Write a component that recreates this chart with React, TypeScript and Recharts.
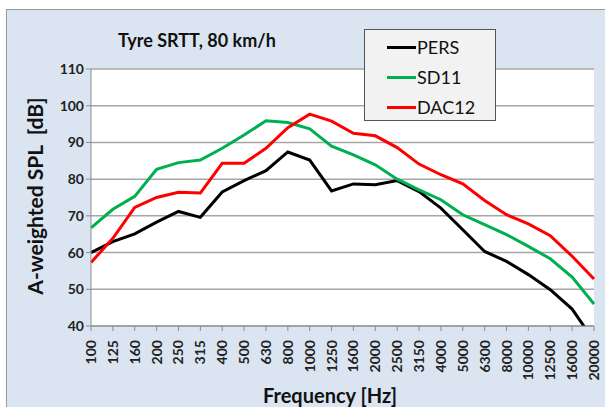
import { LineChart, Line, XAxis, YAxis, CartesianGrid } from 'recharts'

const frequencies = ['100', '125', '160', '200', '250', '315', '400', '500', '630', '800', '1000', '1250', '1600', '2000', '2500', '3150', '4000', '5000', '6300', '8000', '10000', '12500', '16000', '20000']
const pers = [60.0, 63.0, 65.1, 68.3, 71.2, 69.6, 76.5, 79.6, 82.3, 87.4, 85.2, 76.8, 78.7, 78.5, 79.6, 76.6, 72.1, 66.2, 60.3, 57.6, 54.0, 49.9, 44.6, 36.0]
const sd11 = [66.7, 71.8, 75.3, 82.7, 84.5, 85.2, 88.4, 92.0, 95.9, 95.4, 93.7, 89.0, 86.6, 83.9, 80.0, 77.1, 74.4, 70.3, 67.6, 64.9, 61.7, 58.3, 53.3, 46.0]
const dac12 = [57.3, 63.9, 72.3, 75.0, 76.4, 76.2, 84.3, 84.3, 88.4, 94.0, 97.7, 95.8, 92.5, 91.8, 88.6, 84.1, 81.2, 78.7, 74.2, 70.3, 67.8, 64.6, 59.0, 52.8]
const yTicks = [40, 50, 60, 70, 80, 90, 100, 110]

const series = [
  { key: 'PERS', color: '#000000' },
  { key: 'SD11', color: '#00b050' },
  { key: 'DAC12', color: '#ff0000' },
]

const data = frequencies.map((f, i) => ({ f, PERS: pers[i], SD11: sd11[i], DAC12: dac12[i] }))

const FONT = 'Lato, "Open Sans", sans-serif'

function FreqTick({ x, y, payload }: any) {
  return (
    <text x={x} y={y + 7} transform={`rotate(-90 ${x} ${y + 7})`} dy={5} textAnchor="end"
      fontFamily={FONT} fontWeight={700} fontSize={14} fill="#222">
      {payload.value}
    </text>
  )
}

export default function App() {
  return (
    <div style={{ position: 'fixed', left: 0, top: 0, width: 605, height: 407, background: '#fff', overflow: 'hidden' }}>
      <div style={{ position: 'absolute', left: 6, top: 9, width: 620, height: 420, background: '#dbe5f1', border: '1px solid #9a9a9a' }} />
      <div style={{ position: 'absolute', left: 0, top: 0 }}>
        <LineChart width={605} height={407} data={data} margin={{ top: 69, right: 11, left: 0, bottom: 0 }}>
          <CartesianGrid vertical={false} fill="#ffffff" stroke="#a6a6a6" strokeWidth={1.5} />
          <XAxis dataKey="f" height={81} interval={0} tick={<FreqTick />} tickSize={5}
            stroke="#8c8c8c" tickLine={{ stroke: '#8c8c8c' }} />
          <YAxis width={91} domain={[40, 110]} ticks={yTicks} allowDataOverflow interval={0} tickSize={5}
            stroke="#8c8c8c" tick={{ fontFamily: FONT, fontWeight: 700, fontSize: 14, fill: '#222' }} />
          {series.map((s) => (
            <Line key={s.key} dataKey={s.key} stroke={s.color} strokeWidth={3} dot={false} isAnimationActive={false} />
          ))}
        </LineChart>
      </div>
      <div style={{ position: 'absolute', left: 364, top: 29, width: 132, height: 92, background: '#f2f2f2', border: '1px solid #555', boxSizing: 'border-box', padding: '2px 0 0 22px', fontFamily: FONT, fontSize: 18 }}>
        {series.map((s) => (
          <div key={s.key} style={{ display: 'flex', alignItems: 'center', height: 30 }}>
            <span style={{ display: 'inline-block', width: 29, height: 3, background: s.color }} />
            <span style={{ marginLeft: 1, color: '#111' }}>{s.key}</span>
          </div>
        ))}
      </div>
      <div style={{ position: 'absolute', left: 118, top: 29, fontFamily: FONT, fontWeight: 700, fontSize: 18, color: '#111', whiteSpace: 'nowrap' }}>
        Tyre SRTT, 80 km/h
      </div>
      <div style={{ position: 'absolute', left: 34, top: 196, transform: 'translate(-50%, -50%) rotate(-90deg)', fontFamily: FONT, fontWeight: 700, fontSize: 21, color: '#111', whiteSpace: 'nowrap' }}>
        A-weighted SPL&nbsp; [dB]
      </div>
      <div style={{ position: 'absolute', left: 330, top: 383, transform: 'translateX(-50%)', fontFamily: FONT, fontWeight: 700, fontSize: 20, color: '#111', whiteSpace: 'nowrap' }}>
        Frequency [Hz]
      </div>
    </div>
  )
}
